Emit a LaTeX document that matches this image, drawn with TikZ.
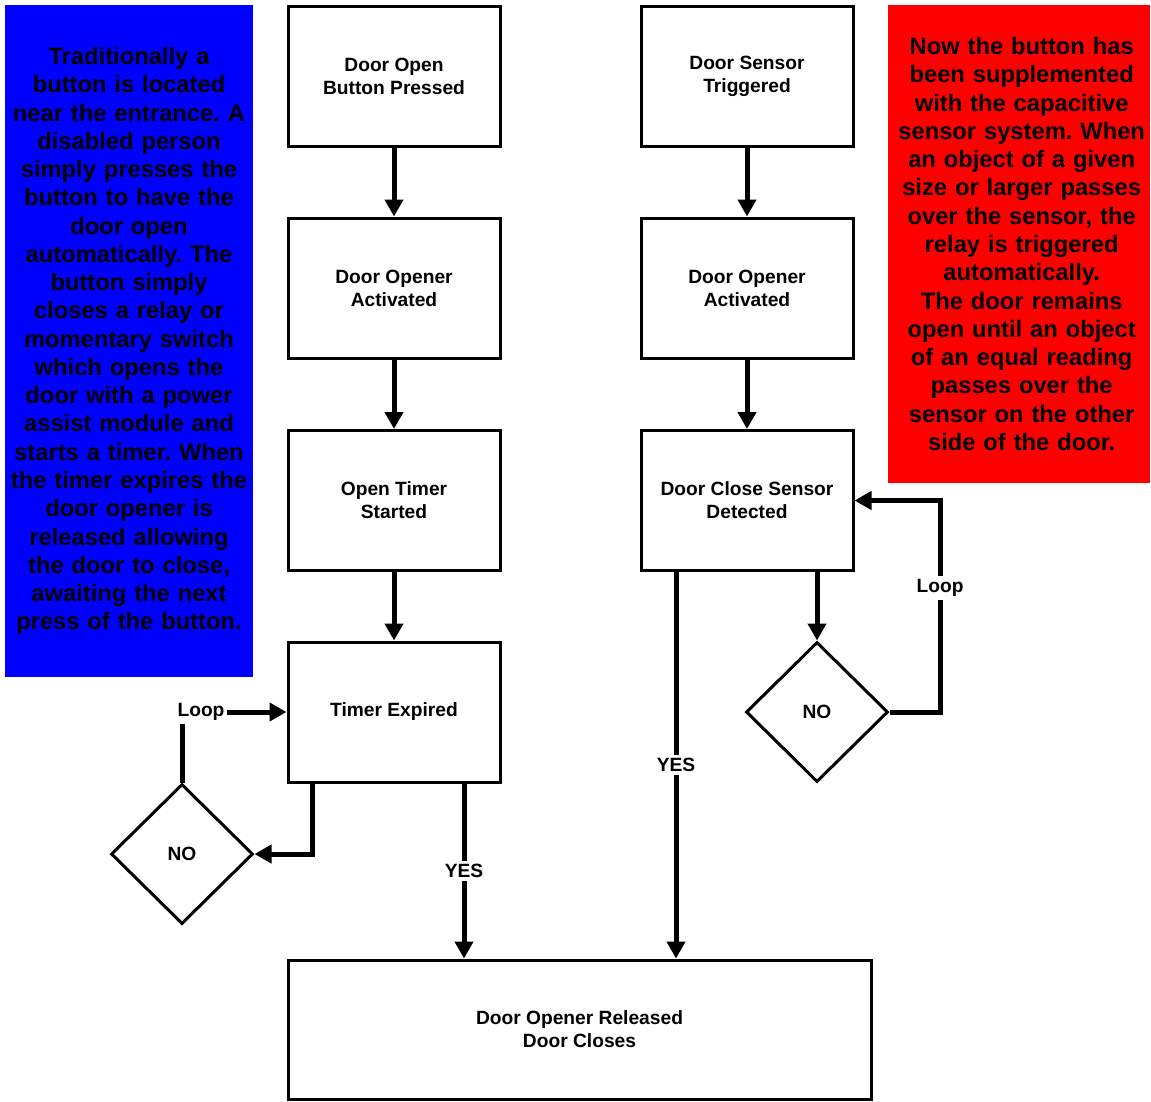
\documentclass[tikz,border=0pt]{standalone}
\usepackage{fontspec}
\setmainfont{Liberation Sans}
\usetikzlibrary{arrows.meta,shapes.geometric}
\frenchspacing
\begin{document}
\begin{tikzpicture}[x=0.75pt,y=-0.75pt,
  box/.style={draw, line width=2.25pt, minimum width=159pt, minimum height=105pt, inner sep=0pt, align=center, font=\bfseries\fontsize{14.4pt}{17.3pt}\selectfont},
  dec/.style={draw, diamond, line width=2.25pt, minimum width=106.5pt, minimum height=105pt, inner sep=0pt, font=\bfseries\fontsize{14.4pt}{17.3pt}\selectfont},
  lbl/.style={inner sep=2pt, font=\bfseries\fontsize{14.4pt}{17.3pt}\selectfont},
  flow/.style={line width=3.75pt, -{Triangle[length=12.75pt,width=13.5pt]}},
  link/.style={line width=3.75pt},
  note/.style={inner sep=0pt, align=center, font=\bfseries\fontsize{17.8pt}{21.2pt}\selectfont}
]
\useasboundingbox (0,0) rectangle (1151,1101);

% side notes
\node[note, fill=blue, text width=186pt, minimum height=504pt] (bluenote) at (129,341) {Traditionally a\\button is located\\near the entrance. A\\disabled person\\simply presses the\\button to have the\\door open\\automatically. The\\button simply\\closes a relay or\\momentary switch\\which opens the\\door with a power\\assist module and\\starts a timer. When\\the timer expires the\\door opener is\\released allowing\\the door to close,\\awaiting the next\\press of the button.};
\node[note, fill=red, text width=196.5pt, minimum height=358.5pt] (rednote) at (1019,244) {\hspace*{4pt}Now the button has\\\hspace*{4pt}been supplemented\\\hspace*{4pt}with the capacitive\\\hspace*{4pt}sensor system. When\\\hspace*{4pt}an object of a given\\\hspace*{4pt}size or larger passes\\\hspace*{4pt}over the sensor, the\\\hspace*{4pt}relay is triggered\\\hspace*{4pt}automatically.\\\hspace*{4pt}The door remains\\\hspace*{4pt}open until an object\\\hspace*{4pt}of an equal reading\\\hspace*{4pt}passes over the\\\hspace*{4pt}sensor on the other\\\hspace*{4pt}side of the door.};

% left column
\node[box] (b1) at (394,76) {Door Open\\Button Pressed};
\node[box] (b2) at (394,288) {Door Opener\\Activated};
\node[box] (b3) at (394,500.5) {Open Timer\\Started};
\node[box] (b4) at (394,712) {Timer Expired};
% right column
\node[box] (r1) at (747,76) {Door Sensor\\Triggered};
\node[box] (r2) at (747,288) {Door Opener\\Activated};
\node[box] (r3) at (747,500.5) {Door Close Sensor\\Detected};
% bottom
\node[box, minimum width=437.25pt, minimum height=104.25pt] (bot) at (579.5,1029.5) {Door Opener Released\\Door Closes};
% decisions
\node[dec] (dL) at (182,854) {NO};
\node[dec] (dR) at (817,712) {NO};

% labels
\node[lbl] (loopL) at (201,712) {Loop};
\node[lbl] (yesL) at (464,871) {YES};
\node[lbl] (loopR) at (940,588) {Loop};
\node[lbl] (yesR) at (676,765) {YES};
\coordinate (cL) at (312,854);

% connectors
\draw[flow] (b1.south) -- (b2.north);
\draw[flow] (b2.south) -- (b3.north);
\draw[flow] (b3.south) -- (b4.north);
\draw[flow] (r1.south) -- (r2.north);
\draw[flow] (r2.south) -- (r3.north);

\draw[link] (b4.south -| yesL) -- (yesL.north);
\draw[flow] (yesL.south) -- (bot.north -| yesL);
\draw[flow] (b4.south -| cL) -- (cL) -- (dL.east);
\draw[link] (dL.north) -- (dL.north |- loopL.south);
\draw[flow] (loopL.east) -- (loopL.east -| b4.west);

\draw[flow] (r3.south -| dR.north) -- (dR.north);
\draw[link] (dR.east) -- (dR.east -| loopR) -- (loopR.south);
\draw[flow] (loopR.north) -- (loopR |- r3.east) -- (r3.east);
\draw[link] (r3.south -| yesR) -- (yesR.north);
\draw[flow] (yesR.south) -- (bot.north -| yesR);
\end{tikzpicture}
\end{document}
